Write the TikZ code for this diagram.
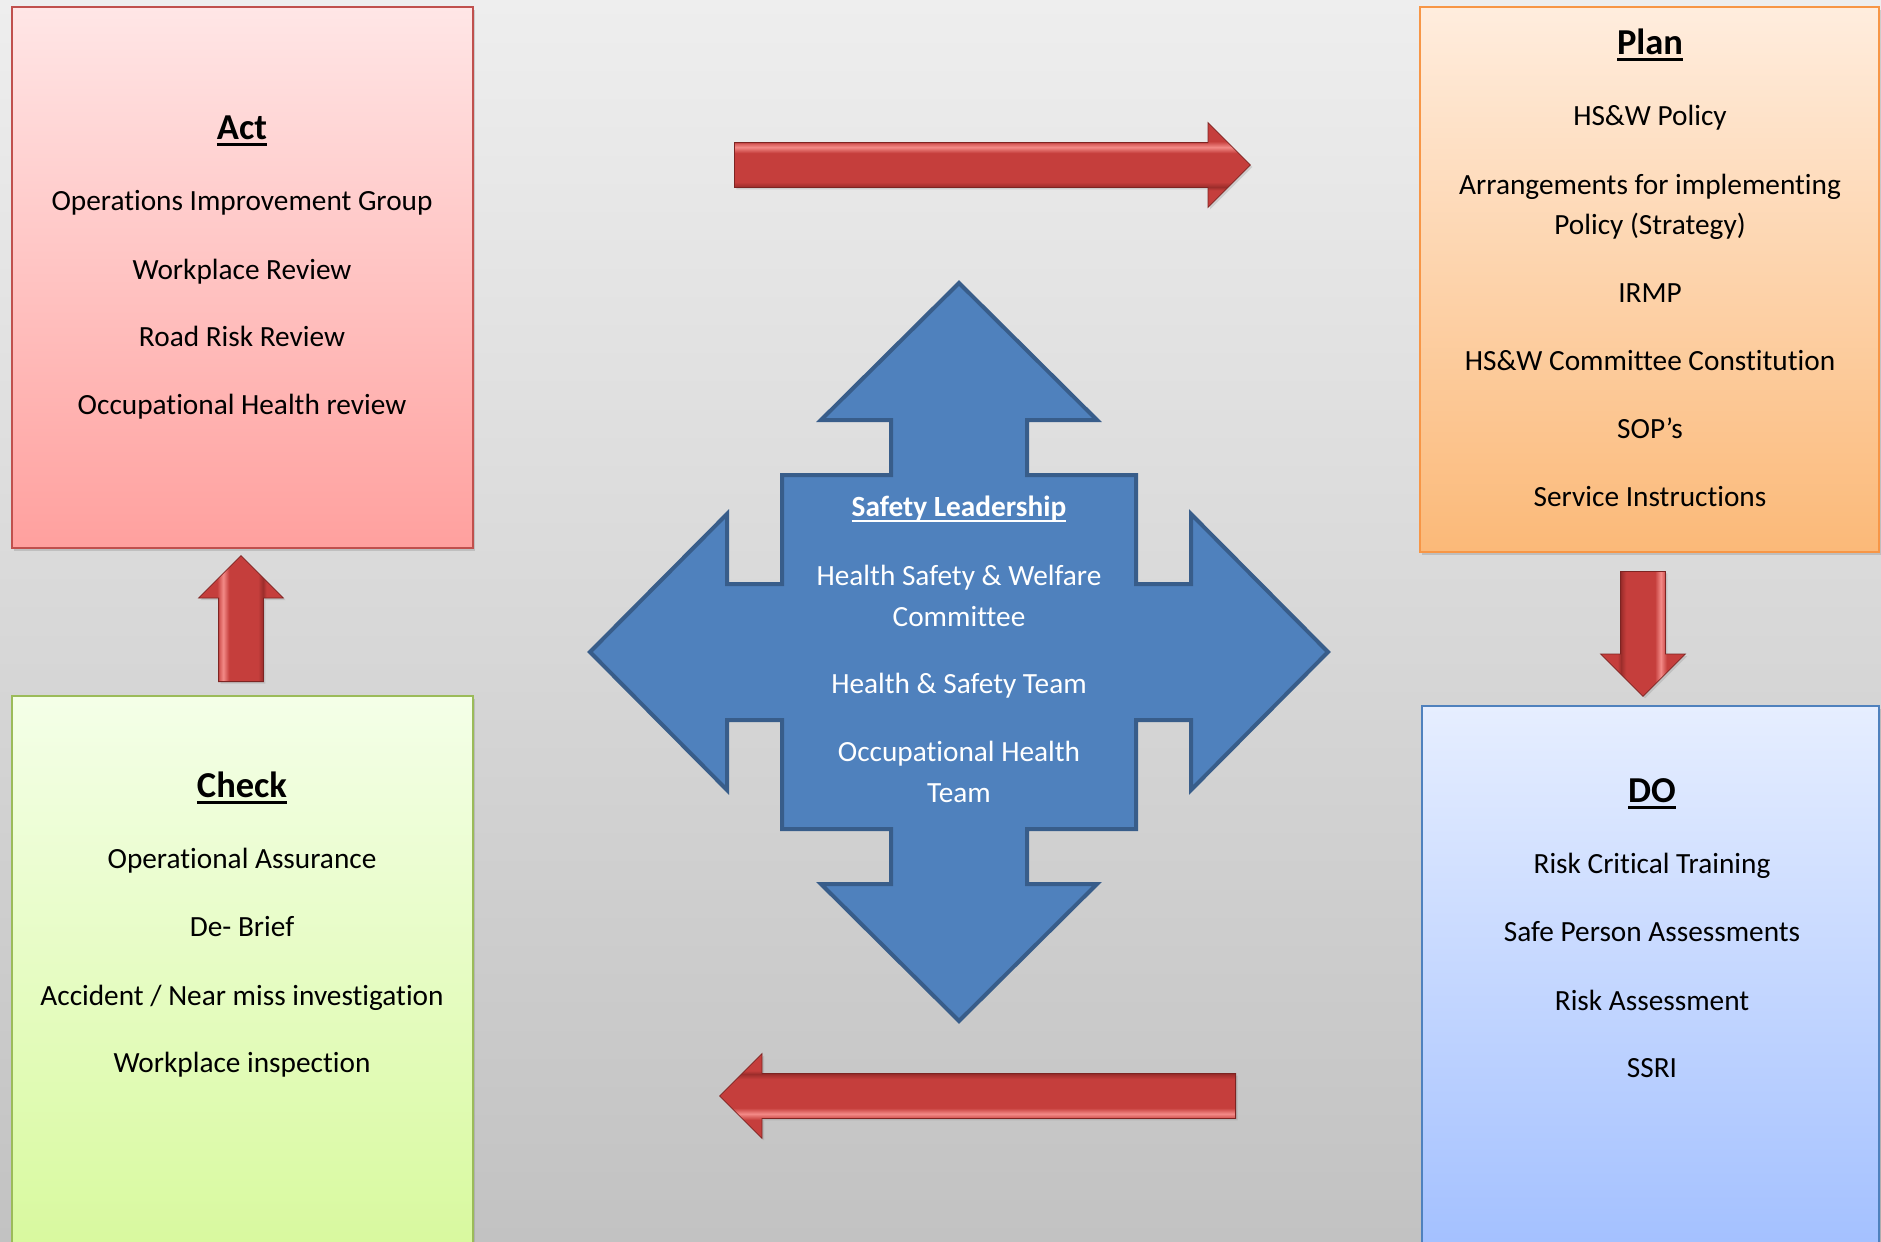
\documentclass[tikz,border=0pt]{standalone}
\usepackage{fontspec}
\setmainfont{Carlito}[Ligatures=NoCommon]
\usepackage{tikz}
\usetikzlibrary{shapes.arrows, shadows}

\definecolor{bgtop}{HTML}{EEEEEE}
\definecolor{bgbottom}{HTML}{C2C2C2}
\definecolor{actline}{HTML}{C0504D}
\definecolor{acttop}{HTML}{FFE6E6}
\definecolor{actbottom}{HTML}{FFA09E}
\definecolor{planline}{HTML}{F79646}
\definecolor{plantop}{HTML}{FFEDDE}
\definecolor{planbottom}{HTML}{FBB978}
\definecolor{checkline}{HTML}{9BBB59}
\definecolor{checktop}{HTML}{F4FFE8}
\definecolor{checkbottom}{HTML}{D8F99E}
\definecolor{doline}{HTML}{4F81BD}
\definecolor{dotop}{HTML}{E6EEFF}
\definecolor{dobottom}{HTML}{A3C0FF}
\definecolor{crossfill}{HTML}{4F81BD}
\definecolor{crossline}{HTML}{385D8A}
\definecolor{arrowhigh}{HTML}{F38A87}
\definecolor{arrowmid}{HTML}{C53E3C}
\definecolor{arrowdark}{HTML}{9C2D2B}

% bevelled red bar, light edge on top
\pgfdeclareverticalshading{redbar}{100bp}{color(0bp)=(arrowmid); color(35bp)=(arrowmid);
  color(37bp)=(arrowdark); color(40bp)=(arrowmid); color(57bp)=(arrowmid);
  color(60.5bp)=(arrowhigh); color(64bp)=(arrowmid); color(100bp)=(arrowmid)}

\newcommand{\heading}[1]{\setbox0\hbox{\textbf{#1}}%
  \rlap{\rule[-0.17em]{\wd0}{0.07em}}\box0}

\begin{document}
\begin{tikzpicture}[x=0.5pt, y=-0.5pt,
    box/.style={draw=#1line, line width=1pt, top color=#1top, bottom color=#1bottom,
                inner sep=0pt, drop shadow={shadow xshift=1pt, shadow yshift=-1.5pt, opacity=.3}},
    title/.style={font=\fontsize{18.25}{22}\selectfont, anchor=mid, inner sep=0pt},
    entry/.style={font=\fontsize{14.65}{20.5}\selectfont, anchor=mid, inner sep=0pt},
    redarrow/.style={single arrow, draw=arrowdark!80!black, line width=0.4pt,
                minimum width=0pt, inner xsep=0pt, inner ysep=11pt,
                single arrow head extend=10pt, anchor=tail,
                shade, shading=redbar, shading angle=#1,
                drop shadow={shadow xshift=1pt, shadow yshift=-1pt, opacity=.25}},
    cross/.style={fill=crossfill, draw=crossline, line width=2pt}]

  % background
  \shade[top color=bgtop, bottom color=bgbottom] (0,0) rectangle (1881,1242);
  \useasboundingbox (0,0) rectangle (1881,1242);

  % the four boxes
  \node[box=act, minimum width=230.5pt, minimum height=270.5pt] (act) at (242.5,277.5) {};
  \node[box=plan, minimum width=229.5pt, minimum height=272.5pt] (plan) at (1649.5,279.5) {};
  \node[box=check, minimum width=230.5pt, minimum height=277pt] (check) at (242.5,973) {};
  \node[box=do, minimum width=228.5pt, minimum height=272pt] (do) at (1650.5,978) {};

  % red arrows round the cycle
  \node[redarrow=0, minimum height=258pt] (toplan) at (734,165) {};
  \node[redarrow=-90, minimum height=62.5pt, rotate=-90] (todo) at (1643,571) {};
  \node[redarrow=180, minimum height=258pt, rotate=180] (tocheck) at (1236,1096) {};
  \node[redarrow=90, minimum height=63pt, rotate=90] (toact) at (241,682) {};

  % central four-way arrow
  \coordinate (hub) at (959,652);
  \draw[cross, shift={(hub)}] (0,-369) -- (138,-232) -- (68,-232) -- (68,-177)
    -- (177,-177) -- (177,-68) -- (232,-68) -- (232,-138) -- (369,0)
    -- (232,138) -- (232,68) -- (177,68) -- (177,177) -- (68,177)
    -- (68,232) -- (138,232) -- (0,369) -- (-138,232) -- (-68,232)
    -- (-68,177) -- (-177,177) -- (-177,68) -- (-232,68) -- (-232,138)
    -- (-369,0) -- (-232,-138) -- (-232,-68) -- (-177,-68) -- (-177,-177)
    -- (-68,-177) -- (-68,-232) -- (-138,-232) -- cycle;

  % texts
  \node[title] (act-title) at (242,135) {\heading{Act}};
  \foreach \y/\txt [count=\i] in {206/Operations Improvement Group, 275/Workplace Review,
      342/Road Risk Review, 410/Occupational Health review}
    \node[entry] (act-\i) at (242,\y) {\txt};

  \node[title] (plan-title) at (1650,50) {\heading{Plan}};
  \foreach \y/\txt [count=\i] in {121/HS\&W Policy, 190/Arrangements for implementing,
      230/Policy (Strategy), 298/IRMP, 366/HS\&W Committee Constitution,
      434/SOP’s, 502/Service Instructions}
    \node[entry] (plan-\i) at (1650,\y) {\txt};

  \node[title] (check-title) at (242,793) {\heading{Check}};
  \foreach \y/\txt [count=\i] in {864/Operational Assurance, 932/De- Brief,
      1001/{Accident / Near miss investigation}, 1068/Workplace inspection}
    \node[entry] (check-\i) at (242,\y) {\txt};

  \node[title] (do-title) at (1652,798) {\heading{DO}};
  \foreach \y/\txt [count=\i] in {869/Risk Critical Training, 937/Safe Person Assessments,
      1006/Risk Assessment, 1073/SSRI}
    \node[entry] (do-\i) at (1652,\y) {\txt};

  \node[entry, text=white] (lead-title) at (959,512) {\heading{Safety Leadership}};
  \foreach \y/\txt [count=\i] in {581/Health Safety \& Welfare, 622/Committee,
      689/Health \& Safety Team, 757/Occupational Health, 798/Team}
    \node[entry, text=white] (lead-\i) at (959,\y) {\txt};
\end{tikzpicture}
\end{document}
